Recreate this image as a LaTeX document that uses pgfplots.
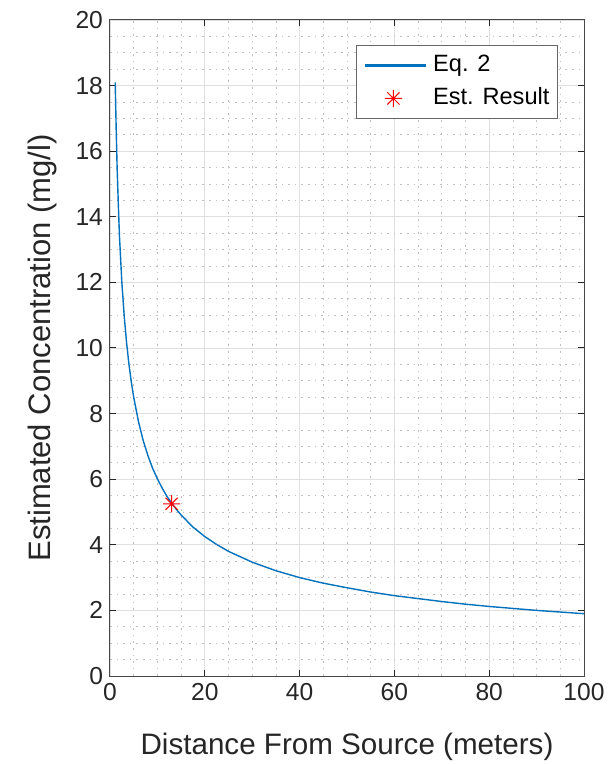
\documentclass[border=0pt]{standalone}
\usepackage{fontspec}
\setmainfont{Liberation Sans}
\usepackage{pgfplots}
\usetikzlibrary{calc}
\pgfplotsset{compat=1.18}
\definecolor{mblue}{RGB}{0,114,189}
\definecolor{mgray}{RGB}{38,38,38}
\pgfdeclareplotmark{mstar}{%
  \pgfpathmoveto{\pgfqpoint{-\pgfplotmarksize}{0pt}}\pgfpathlineto{\pgfqpoint{\pgfplotmarksize}{0pt}}%
  \pgfpathmoveto{\pgfqpoint{0pt}{-\pgfplotmarksize}}\pgfpathlineto{\pgfqpoint{0pt}{\pgfplotmarksize}}%
  \pgfpathmoveto{\pgfqpointpolar{45}{\pgfplotmarksize}}\pgfpathlineto{\pgfqpointpolar{225}{\pgfplotmarksize}}%
  \pgfpathmoveto{\pgfqpointpolar{135}{\pgfplotmarksize}}\pgfpathlineto{\pgfqpointpolar{315}{\pgfplotmarksize}}%
  \pgfusepathqstroke}
\begin{document}
\begin{tikzpicture}
\begin{axis}[
  scale only axis,
  width=237pt, height=328pt,
  xmin=0, xmax=100, ymin=0, ymax=20,
  xtick={0,20,...,100}, ytick={0,2,...,20},
  minor x tick num=3, minor y tick num=3,
  grid=both,
  major grid style={gray!25, line width=0.4pt},
  minor grid style={gray!50, line width=0.4pt, dash pattern=on 0.8pt off 2.5pt},
  axis line style={mgray!85, line width=0.5pt},
  tick style={mgray, line width=0.5pt},
  tick align=inside,
  major tick length=3pt,
  minor tick length=0pt,
  /pgf/number format/assume math mode=true,
  ticklabel style={font=\fontsize{12.3}{14}\selectfont, text=mgray},
  xlabel={Distance From Source (meters)},
  ylabel={Estimated Concentration (mg/l)},
  xlabel style={font=\fontsize{14.8}{17}\selectfont, text=mgray, at={(axis description cs:0.5,-0.108)}, anchor=center},
  ylabel style={font=\fontsize{15.5}{18}\selectfont, text=mgray, at={(axis description cs:-0.142,0.5)}, anchor=center},
  legend style={at={(0.945,0.962)}, anchor=north east, draw=mgray!70, line width=0.5pt,
    font=\fontsize{11.8}{14}\selectfont, inner xsep=4pt, inner ysep=4pt, row sep=4.5pt, column sep=3.5pt,
    nodes={inner sep=0pt, text height=9pt, text depth=3pt}},
  legend cell align=left,
]
\addplot[mblue, line width=0.7pt, legend image code/.code={\fill[fill=mblue] (0pt,-0.3pt) rectangle (30pt,0.3pt);}] coordinates {
(1.1,18.1) (1.3,16.7) (1.5,15.5) (1.75,14.4) (2,13.4) (2.5,12.0) (3,10.97) (3.5,10.16) (4,9.5) (4.5,8.96) (5,8.5) (6,7.76) (7,7.18) (8,6.72) (9,6.33) (10,6.01) (11,5.73) (12,5.48) (13,5.27) (14,5.08) (15,4.91) (17.5,4.54) (20,4.25) (22.5,4.01) (25,3.8) (30,3.47) (35,3.21) (40,3.0) (45,2.83) (50,2.69) (55,2.56) (60,2.45) (65,2.36) (70,2.27) (75,2.19) (80,2.12) (85,2.06) (90,2.0) (95,1.95) (100,1.9)
};
\addlegendentry{Eq. 2}
\addplot[only marks, red, mark=mstar, mark size=4.3pt, line width=0.5pt, legend image code/.code={\draw[red, line width=0.5pt] plot[mark=mstar, mark size=4.3pt] coordinates {(14pt,0pt)};}] coordinates {(13,5.25)};
\addlegendentry{Est. Result}
\end{axis}
\pgfresetboundingbox
\useasboundingbox ($(current axis.south west)+(-55pt,-44pt)$) rectangle ($(current axis.north east)+(14pt,10pt)$);
\end{tikzpicture}
\end{document}
